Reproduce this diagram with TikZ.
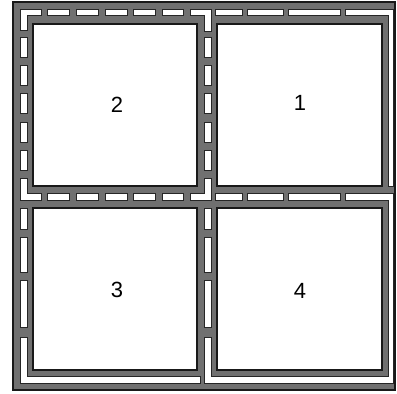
\documentclass[tikz,border=0pt]{standalone}
\usepackage{fontspec}
\setmainfont{Liberation Sans}
\begin{document}
\begin{tikzpicture}[x=1pt,y=-1pt,
  wall/.style={fill=black!56,draw=black!90,line width=1.2pt},
  room/.style={fill=white,draw=black!90,line width=1.1pt},
  chan/.style={fill=white,draw=black!85,line width=0.8pt},
  lbl/.style={font=\fontsize{22}{24}\selectfont,inner sep=0pt}]
\useasboundingbox (0,0) rectangle (397,394);
% outer wall body
\draw[wall] (13,2) rectangle (395,390);
% rooms
\draw[room] (33,24) rectangle (197,186);
\draw[room] (217,24) rectangle (382,186);
\draw[room] (33,208) rectangle (197,370);
\draw[room] (217,208) rectangle (382,370);
% top channel
\draw[chan] (20,9) -- (41,9) -- (41,15.5) -- (27,15.5) -- (27,30) -- (20,30) -- cycle;
\foreach \a/\b in {47/69,76/98,105/127,133/155,162/183}
  \draw[chan] (\a,9) rectangle (\b,15.5);
\draw[chan] (190,9) -- (211,9) -- (211,31) -- (204,31) -- (204,15.5) -- (190,15.5) -- cycle;
\foreach \a/\b in {215/242,247/283,288/340}
  \draw[chan] (\a,9) rectangle (\b,15.5);
\draw[chan] (345,9) -- (393,9) -- (393,186) -- (388,186) -- (388,15.5) -- (345,15.5) -- cycle;
% upper vertical channels
\foreach \a/\b in {37/57,65/85,93/113,122/142,150/170}{
  \draw[chan] (20,\a) rectangle (27,\b);
  \draw[chan] (204,\a) rectangle (211,\b);}
% middle horizontal channel
\draw[chan] (20,178) -- (27,178) -- (27,193) -- (41,193) -- (41,200) -- (20,200) -- cycle;
\foreach \a/\b in {47/69,76/98,105/127,133/155,162/183}
  \draw[chan] (\a,193) rectangle (\b,200);
\draw[chan] (204,178) -- (211,178) -- (211,200) -- (190,200) -- (190,193) -- (204,193) -- cycle;
\foreach \a/\b in {215/242,247/283,288/340}
  \draw[chan] (\a,193) rectangle (\b,200);
\draw[chan] (345,193) -- (393,193) -- (393,383) -- (204,383) -- (204,337) -- (211,337)
  -- (211,376) -- (388,376) -- (388,200) -- (345,200) -- cycle;
% lower vertical channels
\foreach \a/\b in {208/229,237/272,280/327}{
  \draw[chan] (20,\a) rectangle (27,\b);
  \draw[chan] (204,\a) rectangle (211,\b);}
\draw[chan] (20,337) -- (27,337) -- (27,376) -- (200,376) -- (200,383) -- (20,383) -- cycle;
% labels
\node[lbl] (r2) at (117,105) {2};
\node[lbl] (r1) at (300,103) {1};
\node[lbl] (r3) at (117,290) {3};
\node[lbl] (r4) at (300,291) {4};
\end{tikzpicture}
\end{document}
